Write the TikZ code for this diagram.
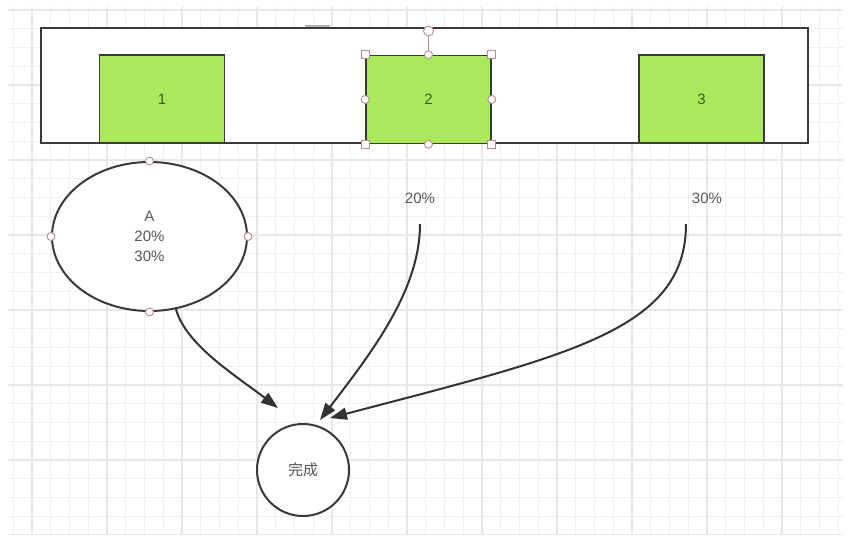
\documentclass[tikz,border=0pt]{standalone}
\usepackage{fontspec}
\setmainfont{Liberation Sans}
\newfontfamily\cjk{Noto Sans CJK SC}
\usetikzlibrary{arrows.meta,shapes.geometric}
\definecolor{gridminor}{HTML}{F0F0F0}
\definecolor{gridmajor}{HTML}{E8E8E8}
\definecolor{edge}{HTML}{3A3A3A}
\definecolor{boxgreen}{HTML}{AAE85C}
\definecolor{boxtext}{HTML}{44582F}
\definecolor{labeltext}{HTML}{555555}
\definecolor{handle}{HTML}{B88C8C}
\definecolor{arrowc}{HTML}{333333}
\begin{document}
\begin{tikzpicture}[x=1pt,y=-1pt,
  txt/.style={font=\fontsize{15}{20}\selectfont, text=labeltext},
  greenbox/.style={draw=edge, line width=1.6pt, fill=boxgreen, inner sep=0pt,
    minimum width=125pt, minimum height=88pt, font=\fontsize{15}{18}\selectfont, text=boxtext},
  hcirc/.style={circle, draw=handle, fill=white, line width=0.9pt, inner sep=0pt, minimum size=8pt},
  hsq/.style={rectangle, draw=handle, fill=white, line width=0.9pt, inner sep=0pt, minimum size=8pt},
  conn/.style={draw=arrowc, line width=2pt, -{Triangle[length=17pt,width=12pt]}}]
\useasboundingbox (0,0) rectangle (864,540);
\fill[white] (0,0) rectangle (864,540);
% grid
\begin{scope}
  \clip (8,7) rectangle (843,534);
  \foreach \i in {-1,...,43} \draw[gridminor, line width=1pt] ({32+18.75*\i},7) -- ({32+18.75*\i},534);
  \foreach \j in {0,...,28} \draw[gridminor, line width=1pt] (8,{10+18.75*\j}) -- (843,{10+18.75*\j});
  \foreach \i in {0,...,10} \draw[gridmajor, line width=1.2pt] ({32+75*\i},7) -- ({32+75*\i},534);
  \foreach \j in {0,...,7} \draw[gridmajor, line width=1.2pt] (8,{10+75*\j}) -- (843,{10+75*\j});
\end{scope}
\draw[gray!60, line width=2pt] (305,26) -- (330,26);
% container
\node[draw=edge, line width=2.4pt, fill=white, inner sep=0pt,
  minimum width=767pt, minimum height=115pt] (frame) at (424.5,85.5) {};
\node[greenbox] (b1) at (162,99) {1};
\node[greenbox] (b2) at (428.5,99.5) {2};
\node[greenbox] (b3) at (701.5,99) {3};
% selection handles on box 2
\node[hcirc, minimum size=10pt] (rot) at (428.5,31) {};
\draw[handle, line width=0.9pt] (rot) -- (b2.north);
\node[hsq] (s1) at (b2.north west) {};
\node[hsq] (s2) at (b2.north east) {};
\node[hsq] (s3) at (b2.south west) {};
\node[hsq] (s4) at (b2.south east) {};
\node[hcirc] (c1) at (b2.north) {};
\node[hcirc] (c2) at (b2.south) {};
\node[hcirc] (c3) at (b2.west) {};
\node[hcirc] (c4) at (b2.east) {};
% ellipse A
\node[ellipse, draw=edge, line width=2pt, fill=white, inner sep=0pt,
  minimum width=195pt, minimum height=149pt, txt, align=center] (A) at (149.5,236.5) {A\\20\%\\30\%};
\node[hcirc] (e1) at (A.north) {};
\node[hcirc] (e2) at (A.south) {};
\node[hcirc] (e3) at (A.west) {};
\node[hcirc] (e4) at (A.east) {};
% labels
\node[txt] (p20) at (420,198) {20\%};
\node[txt] (p30) at (707,198) {30\%};
% done circle
\node[circle, draw=edge, line width=2pt, fill=white, inner sep=0pt, minimum size=92pt,
  font=\cjk\fontsize{15}{18}\selectfont, text=labeltext] (done) at (303,470) {完成};
% connector ends
\coordinate (s20) at (420,224);
\coordinate (s30) at (686,224);
\coordinate (t1) at (278,408);
\coordinate (t2) at (320,420);
\coordinate (t3) at (330,418);
\draw[conn] (A.-70) .. controls (186,345) and (235,375) .. (t1);
\draw[conn] (s20) .. controls (420,290) and (372,352) .. (t2);
\draw[conn] (s30) .. controls (686,330) and (570,355) .. (t3);
\end{tikzpicture}
\end{document}
